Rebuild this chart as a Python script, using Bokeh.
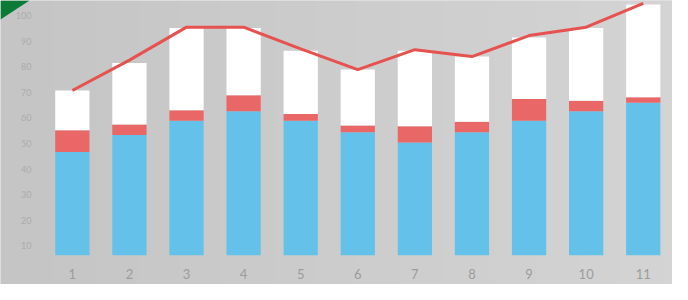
import numpy as np
from bokeh.plotting import figure
from bokeh.models import ColumnDataSource, Range1d
from bokeh.core.properties import value
from bokeh.embed import file_html
from bokeh.resources import INLINE

# ---- data ----
categories = [str(i) for i in range(1, 12)]
base_value = 6.3
blue_top = [46.7, 53.3, 58.9, 62.6, 58.9, 54.4, 50.4, 54.4, 58.9, 62.6, 65.9]
red_top = [55.2, 57.4, 63.0, 68.9, 61.5, 57.0, 56.7, 58.5, 67.4, 66.7, 68.1]
total_top = [70.7, 81.5, 95.2, 95.2, 86.3, 78.9, 86.3, 84.0, 91.5, 95.2, 104.4]
line_values = [70.7, 82.6, 95.5, 95.5, 87.0, 78.9, 86.7, 84.0, 92.2, 95.5, 104.8]
y_ticks = [10, 20, 30, 40, 50, 60, 70, 80, 90, 100]

W, H = 672, 284
px_per_cat = 57.09
x0 = 1 - 71.84 / px_per_cat
x1 = x0 + W / px_per_cat
px_per_val = 2.556
y1 = 270.75 / px_per_val
y0 = y1 - H / px_per_val

xs = list(range(1, len(categories) + 1))
src = ColumnDataSource(dict(x=xs, base=[base_value] * len(xs), blue=blue_top,
                            red=red_top, total=total_top, line=line_values,
                            label=categories))

p = figure(width=W, height=H, output_backend="svg", toolbar_location=None,
           x_range=Range1d(x0, x1), y_range=Range1d(y0, y1),
           min_border=0, x_axis_location=None, y_axis_location=None)
p.outline_line_color = None
p.grid.visible = False
p.background_fill_color = "#cbcbcb"
p.border_fill_color = "#cbcbcb"

# soft horizontal background gradient
g = np.linspace(0, 1, 64)
left = np.array([197, 197, 197]); right = np.array([212, 212, 212])
cols = (left[None, :] * (1 - g[:, None]) + right[None, :] * g[:, None]).astype(np.uint32)
img = np.empty((1, 64), dtype=np.uint32)
img[0, :] = (255 << 24) | (cols[:, 2] << 16) | (cols[:, 1] << 8) | cols[:, 0]
p.image_rgba(image=[img], x=x0, y=y0, dw=x1 - x0, dh=y1 - y0)

# green corner triangle
p.patch([x0, x0 + 29 / px_per_cat, x0], [y1, y1, y1 - 19 / px_per_val],
        fill_color="#0b7a36", line_color=None)

bw = 0.6
p.vbar(x="x", bottom="base", top="blue", width=bw, source=src,
       fill_color="#64c1ea", line_color=None)
p.vbar(x="x", bottom="blue", top="red", width=bw, source=src,
       fill_color="#e96767", line_color=None)
p.vbar(x="x", bottom="red", top="total", width=bw, source=src,
       fill_color="#ffffff", line_color=None)

p.line(x="x", y="line", source=src, line_color="#e5524f", line_width=3)

# y tick labels
p.text(x=[x0] * len(y_ticks), y=y_ticks, text=[str(t) for t in y_ticks],
       x_offset=31, text_align="right", text_baseline="middle",
       text_font=value("Lato"), text_font_size="9px", text_color="#acacac")

# x tick labels
p.text(x="x", y=y0, text="label", source=src, y_offset=-6,
       text_align="center", text_baseline="bottom",
       text_font=value("Lato"), text_font_size="13px", text_color="#9c9c9c")

open("out.html", "w").write(file_html(p, INLINE))
